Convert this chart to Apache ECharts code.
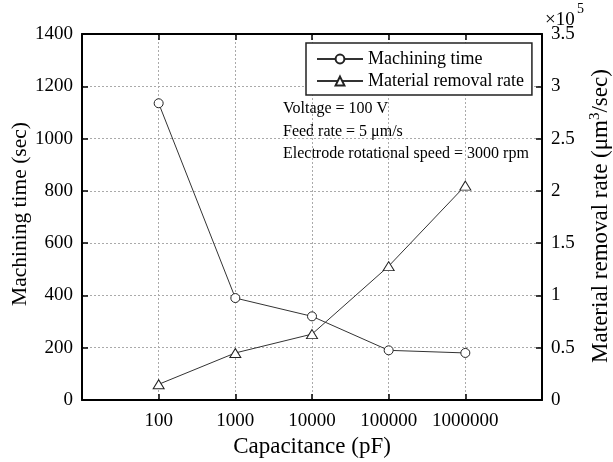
<!DOCTYPE html>
<html>
<head>
<meta charset="utf-8">
<script src="https://cdn.jsdelivr.net/npm/echarts@6/dist/echarts.min.js"></script>
<style>
html, body { margin: 0; padding: 0; background: #fff; }
#main { width: 613px; height: 462px; }
</style>
</head>
<body>
<div id="main"></div>
<script>
// capacitance (pF), placed at positions 1..5 of a 0..6 axis
var capLabels = ['100', '1000', '10000', '100000', '1000000'];
var machTime = [1135, 390, 320, 190, 180];        // sec
var removalRate = [0.15, 0.45, 0.63, 1.28, 2.05]; // x10^5 um^3/sec
var notes = ['Voltage = 100 V', 'Feed rate = 5 \u03bcm/s', 'Electrode rotational speed = 3000 rpm'];

var FONT = 'Liberation Serif';

function pairs(vals) {
	return vals.map(function (v, i) { return [i + 1, v]; });
}

var myChart = echarts.init(document.getElementById('main'));
function axisLine() { return { show: true, onZero: false, lineStyle: { color: '#000', width: 2 } }; }
function tick() { return { show: true, inside: true, length: 6, lineStyle: { color: '#000', width: 1.5 } }; }
var grid = { show: true, lineStyle: { color: '#aaa', type: [2, 2], width: 1 } };

var option = {
	animation: false,
	textStyle: { fontFamily: FONT },
	grid: { left: 82, right: 71, top: 34, bottom: 62, outerBoundsMode: 'none', containLabel: false },
	legend: {
		orient: 'vertical',
		left: 306, top: 43,
		padding: [7, 8, 5, 10],
		itemGap: 4,
		itemWidth: 46, itemHeight: 11,
		borderColor: '#222', borderWidth: 1.5,
		backgroundColor: '#fff',
		textStyle: { fontFamily: FONT, fontSize: 18, color: '#000' },
		data: ['Machining time', 'Material removal rate']
	},
	xAxis: [{
		type: 'value', min: 0, max: 6, interval: 1,
		name: 'Capacitance (pF)', nameLocation: 'middle', nameGap: 33,
		nameTextStyle: { fontFamily: FONT, fontSize: 23, color: '#000' },
		axisLine: axisLine(), axisTick: tick(), splitLine: grid,
		axisLabel: {
			margin: 12, fontFamily: FONT, fontSize: 19, color: '#000',
			formatter: function (v) { return capLabels[v - 1] || ''; }
		}
	}, {
		type: 'value', position: 'top', min: 0, max: 6, interval: 1,
		axisLine: axisLine(), axisTick: tick(), splitLine: { show: false },
		axisLabel: { show: false }
	}],
	yAxis: [{
		type: 'value', min: 0, max: 1400, interval: 200,
		axisLine: axisLine(), axisTick: tick(), splitLine: grid,
		axisLabel: {
			margin: 9, fontFamily: FONT, fontSize: 19, color: '#000',
			formatter: function (v) { return String(v); }
		}
	}, {
		type: 'value', position: 'right', min: 0, max: 3.5, interval: 0.5,
		axisLine: axisLine(), axisTick: tick(), splitLine: { show: false },
		axisLabel: {
			margin: 9, fontFamily: FONT, fontSize: 19, color: '#000',
			formatter: function (v) { return String(v); }
		}
	}],
	graphic: [{
		type: 'text', x: 20, y: 214, rotation: Math.PI / 2,
		style: {
			text: 'Machining time (sec)',
			align: 'center', verticalAlign: 'middle',
			font: '21.5px "Liberation Serif"', fill: '#000'
		}
	}, {
		type: 'text', left: 545, top: 11,
		style: { text: '\u00d710', font: '19px "Liberation Serif"', fill: '#000' }
	}, {
		type: 'text', left: 577, top: 2,
		style: { text: '5', font: '14px "Liberation Serif"', fill: '#000' }
	}, {
		type: 'text', x: 601, y: 216, rotation: Math.PI / 2,
		style: {
			text: 'Material removal rate (\u03bcm{s|3}/sec)',
			align: 'center', verticalAlign: 'middle',
			font: '23px "Liberation Serif"', fill: '#000',
			rich: { s: { fontSize: 15, fontFamily: FONT, padding: [0, 0, 11, 0], fill: '#000' } }
		}
	}, {
		type: 'text', left: 283, top: 98,
		style: {
			text: notes.join('\n'), lineHeight: 22.5,
			font: '16px "Liberation Serif"', fill: '#000'
		}
	}],
	series: [{
		name: 'Machining time', type: 'line',
		xAxisIndex: 0, yAxisIndex: 0,
		data: pairs(machTime),
		symbol: 'circle', symbolSize: 9,
		lineStyle: { color: '#333', width: 1 },
		itemStyle: { color: '#fff', borderColor: '#222', borderWidth: 1 },
		emphasis: { disabled: true }
	}, {
		name: 'Material removal rate', type: 'line',
		xAxisIndex: 0, yAxisIndex: 1,
		data: pairs(removalRate),
		symbol: 'triangle', symbolSize: [11, 9],
		lineStyle: { color: '#333', width: 1 },
		itemStyle: { color: '#fff', borderColor: '#222', borderWidth: 1 },
		emphasis: { disabled: true }
	}]
};
myChart.setOption(option);
</script>
</body>
</html>
